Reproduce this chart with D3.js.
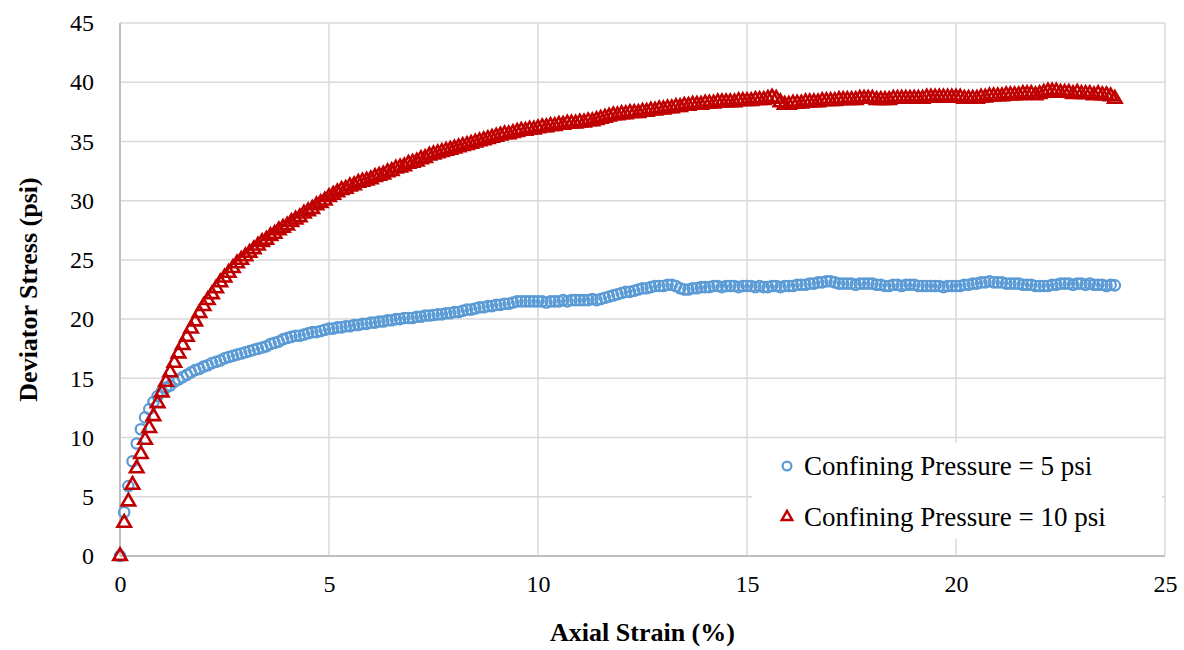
<!DOCTYPE html>
<html>
<head>
<meta charset="utf-8">
<script src="https://cdn.jsdelivr.net/npm/d3@7"></script>
<style>
  html, body { margin: 0; padding: 0; background: #fff; }
  svg { display: block; }
  text { font-family: "Liberation Serif", "Times New Roman", serif; fill: #000; }
</style>
</head>
<body>
<svg id="chart" width="1184" height="650"></svg>
<script>
// Axial strain (%) sample points shared by both tests
const strain = [
  0.0,0.1,0.2,0.3,0.4,0.5,0.6,0.7,0.8,0.9,
  1.0,1.1,1.2,1.3,1.4,1.5,1.6,1.7,1.8,1.9,
  2.0,2.1,2.2,2.3,2.4,2.5,2.6,2.7,2.8,2.9,
  3.0,3.1,3.2,3.3,3.4,3.5,3.6,3.7,3.8,3.9,
  4.0,4.1,4.2,4.3,4.4,4.5,4.6,4.7,4.8,4.9,
  5.0,5.1,5.2,5.3,5.4,5.5,5.6,5.7,5.8,5.9,
  6.0,6.1,6.2,6.3,6.4,6.5,6.6,6.7,6.8,6.9,
  7.0,7.1,7.2,7.3,7.4,7.5,7.6,7.7,7.8,7.9,
  8.0,8.1,8.2,8.3,8.4,8.5,8.6,8.7,8.8,8.9,
  9.0,9.1,9.2,9.3,9.4,9.5,9.6,9.7,9.8,9.9,
  10.0,10.1,10.2,10.3,10.4,10.5,10.6,10.7,10.8,10.9,
  11.0,11.1,11.2,11.3,11.4,11.5,11.6,11.7,11.8,11.9,
  12.0,12.1,12.2,12.3,12.4,12.5,12.6,12.7,12.8,12.9,
  13.0,13.1,13.2,13.3,13.4,13.5,13.6,13.7,13.8,13.9,
  14.0,14.1,14.2,14.3,14.4,14.5,14.6,14.7,14.8,14.9,
  15.0,15.1,15.2,15.3,15.4,15.5,15.6,15.7,15.8,15.9,
  16.0,16.1,16.2,16.3,16.4,16.5,16.6,16.7,16.8,16.9,
  17.0,17.1,17.2,17.3,17.4,17.5,17.6,17.7,17.8,17.9,
  18.0,18.1,18.2,18.3,18.4,18.5,18.6,18.7,18.8,18.9,
  19.0,19.1,19.2,19.3,19.4,19.5,19.6,19.7,19.8,19.9,
  20.0,20.1,20.2,20.3,20.4,20.5,20.6,20.7,20.8,20.9,
  21.0,21.1,21.2,21.3,21.4,21.5,21.6,21.7,21.8,21.9,
  22.0,22.1,22.2,22.3,22.4,22.5,22.6,22.7,22.8,22.9,
  23.0,23.1,23.2,23.3,23.4,23.5,23.6,23.7,23.8
];

// Deviator stress (psi), confining pressure = 5 psi
const stress5 = [
  0,3.7,5.9,8.0,9.5,10.7,11.7,12.4,13.0,13.5,
  13.9,14.2,14.4,14.7,14.9,15.1,15.3,15.5,15.7,15.8,
  16.0,16.1,16.3,16.4,16.5,16.7,16.8,16.9,17.0,17.1,
  17.2,17.3,17.4,17.5,17.6,17.7,17.9,18.0,18.1,18.3,
  18.4,18.5,18.6,18.6,18.7,18.8,18.9,18.9,19.0,19.1,
  19.2,19.2,19.3,19.3,19.4,19.4,19.5,19.5,19.6,19.6,
  19.7,19.7,19.8,19.8,19.9,19.9,20.0,20.0,20.1,20.1,
  20.1,20.2,20.2,20.3,20.3,20.35,20.4,20.4,20.5,20.5,
  20.6,20.6,20.7,20.8,20.8,20.9,21.0,21.0,21.1,21.1,
  21.2,21.2,21.3,21.3,21.4,21.5,21.5,21.5,21.5,21.5,
  21.5,21.5,21.4,21.5,21.5,21.5,21.6,21.5,21.6,21.6,
  21.6,21.6,21.6,21.7,21.6,21.7,21.8,21.9,22.0,22.1,
  22.2,22.3,22.3,22.4,22.5,22.6,22.6,22.7,22.8,22.8,
  22.8,22.9,22.9,22.8,22.6,22.5,22.5,22.6,22.6,22.7,
  22.7,22.7,22.8,22.8,22.7,22.8,22.8,22.8,22.7,22.8,
  22.8,22.8,22.7,22.8,22.7,22.7,22.8,22.8,22.7,22.8,
  22.8,22.8,22.9,22.9,22.9,23.0,23.0,23.1,23.1,23.2,
  23.2,23.1,23.0,23.0,23.0,23.0,22.9,23.0,23.0,23.0,
  23.0,22.9,22.9,22.8,22.8,22.9,22.9,22.8,22.9,22.9,
  22.9,22.8,22.8,22.8,22.8,22.8,22.8,22.7,22.8,22.8,
  22.8,22.8,22.9,22.9,23.0,23.0,23.1,23.1,23.2,23.1,
  23.1,23.1,23.0,23.0,23.0,23.0,22.9,22.9,22.9,22.8,
  22.8,22.8,22.8,22.9,22.9,23.0,23.0,23.0,22.9,23.0,
  23.0,22.9,23.0,22.9,22.9,22.9,22.8,22.9,22.85
];

// Deviator stress (psi), confining pressure = 10 psi
const stress10 = [
  0,2.8,4.6,6.0,7.4,8.6,9.8,10.8,11.8,12.9,
  13.8,14.7,15.5,16.3,17.1,17.8,18.5,19.2,19.8,20.5,
  21.1,21.6,22.1,22.6,23.1,23.5,23.9,24.3,24.7,25.0,
  25.3,25.6,25.9,26.2,26.5,26.7,27.0,27.2,27.5,27.7,
  27.9,28.2,28.4,28.6,28.9,29.1,29.3,29.6,29.8,30.0,
  30.3,30.5,30.7,30.9,31.0,31.2,31.3,31.5,31.6,31.7,
  31.8,32.0,32.1,32.2,32.4,32.5,32.7,32.8,32.9,33.1,
  33.2,33.3,33.5,33.6,33.8,33.9,34.0,34.1,34.2,34.3,
  34.4,34.5,34.6,34.7,34.8,34.9,35.0,35.1,35.2,35.3,
  35.4,35.5,35.6,35.6,35.7,35.8,35.9,35.9,36.0,36.0,
  36.1,36.2,36.2,36.3,36.3,36.4,36.4,36.5,36.5,36.5,
  36.6,36.6,36.7,36.7,36.8,36.9,37.0,37.1,37.2,37.2,
  37.3,37.3,37.4,37.4,37.4,37.5,37.5,37.6,37.6,37.7,
  37.7,37.8,37.8,37.9,37.9,38.0,38.0,38.1,38.1,38.1,
  38.2,38.2,38.2,38.3,38.3,38.3,38.3,38.3,38.4,38.4,
  38.4,38.4,38.5,38.5,38.5,38.6,38.7,38.6,38.3,38.1,
  38.1,38.2,38.2,38.2,38.3,38.3,38.3,38.3,38.4,38.4,
  38.4,38.4,38.5,38.5,38.5,38.5,38.5,38.6,38.6,38.6,
  38.6,38.5,38.5,38.5,38.5,38.6,38.6,38.6,38.6,38.6,
  38.6,38.6,38.6,38.7,38.7,38.7,38.7,38.7,38.7,38.7,
  38.7,38.7,38.6,38.6,38.6,38.6,38.7,38.7,38.8,38.8,
  38.8,38.8,38.9,38.9,38.9,38.9,39.0,39.0,39.0,38.9,
  39.0,39.1,39.2,39.2,39.2,39.1,39.1,39.1,39.0,39.1,
  39.0,39.0,39.0,38.9,39.0,38.9,38.9,38.8,38.6
];

const xTicks = [0, 5, 10, 15, 20, 25];
const yTicks = [0, 5, 10, 15, 20, 25, 30, 35, 40, 45];
const seriesNames = ["Confining Pressure = 5 psi", "Confining Pressure = 10 psi"];
const xTitle = "Axial Strain (%)";
const yTitle = "Deviator Stress (psi)";

const blue = "#5b9bd5", red = "#c00000", grid = "#d9d9d9";
const m = { left: 120, right: 1165, top: 23, bottom: 556 };

const svg = d3.select("#chart");
const x = d3.scaleLinear().domain([0, 25]).range([m.left, m.right]);
const y = d3.scaleLinear().domain([0, 45]).range([m.bottom, m.top]);

// gridlines
svg.append("g").selectAll("line").data(xTicks).join("line")
  .attr("x1", d => x(d)).attr("x2", d => x(d))
  .attr("y1", m.top).attr("y2", m.bottom)
  .attr("stroke", grid).attr("stroke-width", 1.5);
svg.append("g").selectAll("line").data(yTicks).join("line")
  .attr("x1", m.left).attr("x2", m.right)
  .attr("y1", d => y(d)).attr("y2", d => y(d))
  .attr("stroke", grid).attr("stroke-width", 1.5);

// axes lines
svg.append("line").attr("x1", m.left).attr("x2", m.left).attr("y1", m.top).attr("y2", m.bottom)
  .attr("stroke", "#bfbfbf").attr("stroke-width", 2);
svg.append("line").attr("x1", m.left).attr("x2", m.right).attr("y1", m.bottom).attr("y2", m.bottom)
  .attr("stroke", "#bfbfbf").attr("stroke-width", 2);

// tick labels via d3 axes
const xAxis = svg.append("g").attr("transform", `translate(0,${m.bottom})`)
  .call(d3.axisBottom(x).tickValues(xTicks).tickSize(0).tickPadding(28));
const yAxis = svg.append("g").attr("transform", `translate(${m.left},0)`)
  .call(d3.axisLeft(y).tickValues(yTicks).tickSize(0).tickPadding(26));
[xAxis, yAxis].forEach(g => {
  g.select(".domain").remove();
  g.selectAll("text").attr("font-family", "Liberation Serif, serif")
    .attr("font-size", 24).attr("fill", "#000");
});
xAxis.selectAll("text").attr("dy", "0.32em");

// data
const pts5 = strain.map((s, i) => [s, stress5[i]]);
const pts10 = strain.map((s, i) => [s, stress10[i]]);

svg.append("g").selectAll("circle").data(pts5).join("circle")
  .attr("cx", d => x(d[0])).attr("cy", d => y(d[1])).attr("r", 5.2)
  .attr("fill", "none").attr("stroke", blue).attr("stroke-width", 2.2);

const tri = d3.symbol().type(d3.symbolTriangle).size(78);
svg.append("g").selectAll("path").data(pts10).join("path")
  .attr("d", tri)
  .attr("transform", d => `translate(${x(d[0])},${y(d[1])})`)
  .attr("fill", "none").attr("stroke", red).attr("stroke-width", 2.6)
  .attr("stroke-linejoin", "miter");

// legend
const lg = svg.append("g");
lg.append("rect").attr("x", 752).attr("y", 443).attr("width", 410).attr("height", 96).attr("fill", "#fff");
lg.append("circle").attr("cx", 787).attr("cy", 466).attr("r", 4.4)
  .attr("fill", "none").attr("stroke", blue).attr("stroke-width", 2.2);
lg.append("path").attr("d", d3.symbol().type(d3.symbolTriangle).size(48)())
  .attr("transform", "translate(787,517)")
  .attr("fill", "none").attr("stroke", red).attr("stroke-width", 2.4);
lg.append("text").attr("x", 804).attr("y", 466).attr("dy", "0.35em")
  .attr("font-size", 27).text(seriesNames[0]);
lg.append("text").attr("x", 804).attr("y", 517).attr("dy", "0.35em")
  .attr("font-size", 27).text(seriesNames[1]);

// axis titles
svg.append("text").attr("x", (m.left + m.right) / 2).attr("y", 632).attr("dy", "0.35em")
  .attr("text-anchor", "middle").attr("font-size", 26).attr("font-weight", "bold").text(xTitle);
svg.append("text").attr("transform", `translate(28,${(m.top + m.bottom) / 2}) rotate(-90)`)
  .attr("dy", "0.35em")
  .attr("text-anchor", "middle").attr("font-size", 26).attr("font-weight", "bold").text(yTitle);
</script>
</body>
</html>
